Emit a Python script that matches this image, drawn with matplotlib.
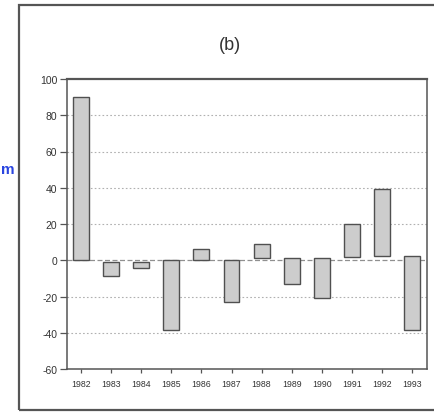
import matplotlib
matplotlib.use("Agg")
import matplotlib.pyplot as plt
from matplotlib.patches import Rectangle

plt.rcParams['font.family'] = ['Liberation Sans', 'DejaVu Sans']

years = ['1982', '1983', '1984', '1985', '1986', '1987',
         '1988', '1989', '1990', '1991', '1992', '1993']
bar_start = [0, -1, -1, 0, 0, 0, 1, 1, 1, 2, 2.5, 2.5]
bar_end = [90, -8.5, -4, -38.5, 6, -23, 9, -13, -21, 20, 39.5, -38.5]
y_ticks = [-60, -40, -20, 0, 20, 40, 60, 80, 100]
grid_vals = [-40, -20, 20, 40, 60, 80]

fig = plt.figure(figsize=(4.34, 4.14), dpi=100)
fig.patch.set_facecolor('white')

# outer frame of the scanned panel
fig.patches.append(Rectangle((19/434, 3/414), 1.2, 1 - 9/414,
                             transform=fig.transFigure, fill=False,
                             edgecolor='#555555', linewidth=1.6, zorder=0))

ax = fig.add_axes([67/434, 1 - 370/414, (427 - 67)/434, (370 - 80)/414])

x = list(range(len(years)))
heights = [e - s for s, e in zip(bar_start, bar_end)]
ax.bar(x, heights, bottom=bar_start, width=0.53, color='#cdcdcd',
       edgecolor='#505050', linewidth=1.0, zorder=3)

for g in grid_vals:
    ax.axhline(g, color='#b0b0b0', linestyle=(0, (1.5, 2)), linewidth=0.8, zorder=1)
ax.axhline(0, color='#909090', linestyle=(0, (4, 2)), linewidth=0.9, zorder=1)

ax.set_xlim(-0.47, len(years) - 0.5)
ax.set_ylim(-60, 100)
ax.set_yticks(y_ticks)
ax.set_yticklabels([str(v) for v in y_ticks], fontsize=7.5, color='#333333')
ax.set_xticks(x)
ax.set_xticklabels(years, fontsize=6.3, color='#333333')
ax.tick_params(axis='y', length=5, width=0.9, pad=2, color='#555555')
ax.tick_params(axis='x', length=3, width=0.9, pad=4, color='#555555')
for sp in ax.spines.values():
    sp.set_color('#555555')
    sp.set_linewidth(1.1)
ax.spines['top'].set_linewidth(1.6)

fig.text(230/434, 1 - 45/414, '(b)', fontsize=13, ha='center', va='center',
         color='#333333')
fig.text(1/434, 1 - 170/414, 'm', fontsize=11, fontweight='bold',
         ha='left', va='center', color='#2a45e0')

fig.savefig('out.png', dpi=100)
